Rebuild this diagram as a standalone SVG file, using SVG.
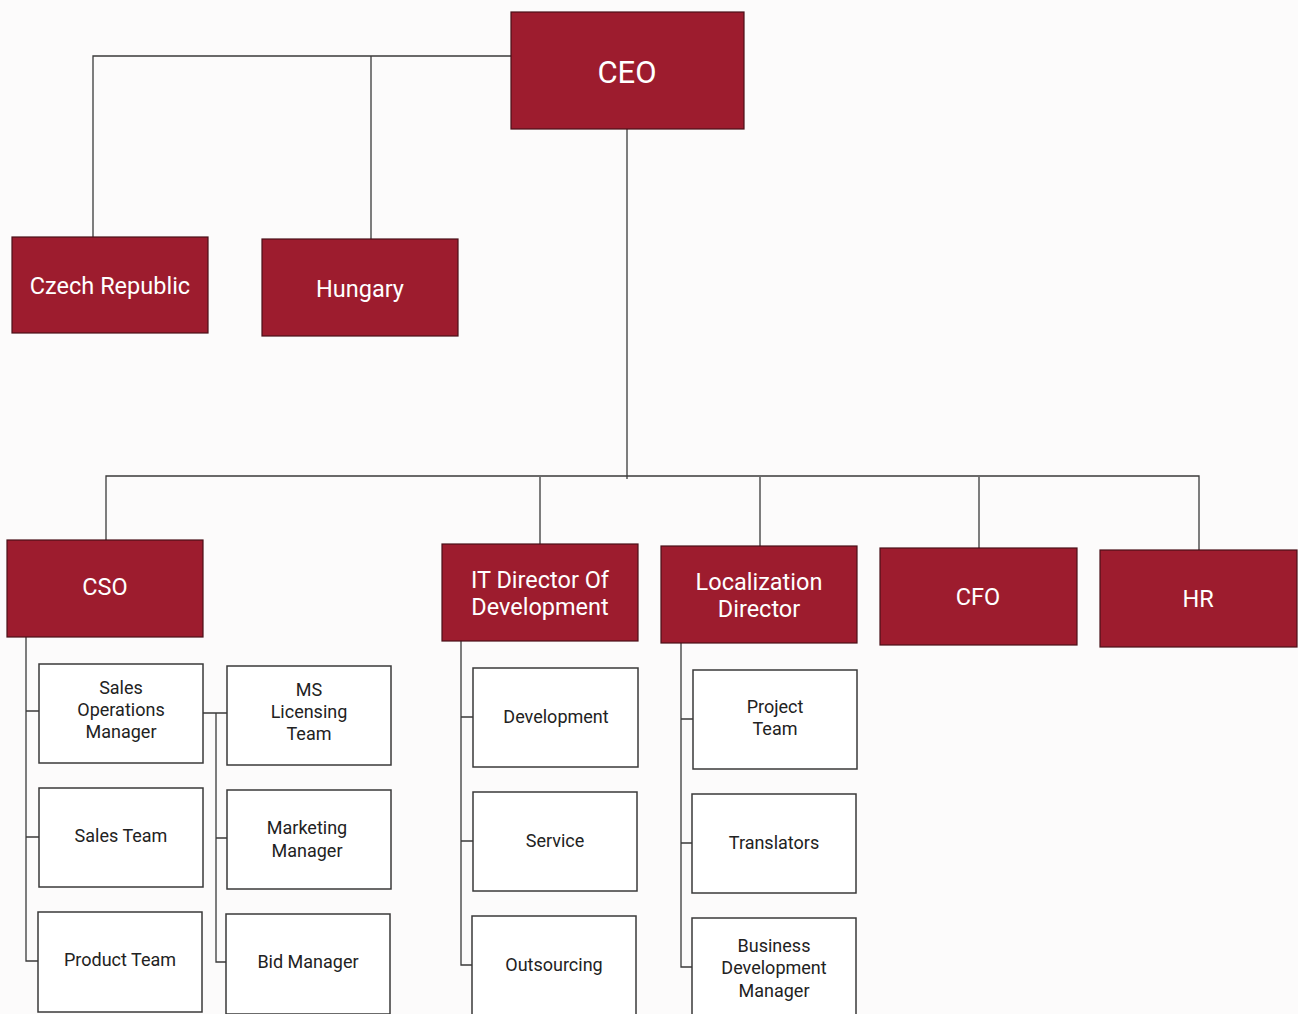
<svg xmlns="http://www.w3.org/2000/svg" width="1298" height="1014" viewBox="0 0 1298 1014">
<style>
.bg{fill:#fcfbfb}
.red rect{fill:#9d1c2e;stroke:#4a1018;stroke-width:1.2}
.red text{fill:#ffffff;font-family:Roboto,"Liberation Sans",sans-serif;font-size:23.5px;text-anchor:middle;dominant-baseline:central}
.wht rect{fill:#ffffff;stroke:#3a3a3a;stroke-width:1.5}
.wht text{fill:#222;font-family:Roboto,"Liberation Sans",sans-serif;font-size:18px;text-anchor:middle;dominant-baseline:central}
#connectors path{fill:none;stroke:#3a3a3a;stroke-width:1.3}
</style>
<rect class="bg" x="0" y="0" width="1298" height="1014"/>
<g id="connectors">
<path d="M511 56 H93 V237 M371 56 V239"/>
<path d="M627 129 V479 M106 540 V476 H1199 V550 M540 477 V544 M760 477 V546 M979 477 V548"/>
<path d="M26 637 V961 H39 M26 711 H39 M26 837 H39"/>
<path d="M203 713 H227 M216 713 V962 H227 M216 838 H227"/>
<path d="M461 641 V965 H473 M461 717 H473 M461 841 H473"/>
<path d="M681 643 V967 H693 M681 719 H693 M681 843 H693"/>
</g>
<g id="ceo" class="red"><rect x="511" y="12" width="233" height="117"/><text x="627" y="72" style="font-size:31px">CEO</text></g>
<g id="czech" class="red"><rect x="12" y="237" width="196" height="96"/><text x="110" y="286">Czech Republic</text></g>
<g id="hungary" class="red"><rect x="262" y="239" width="196" height="97"/><text x="360" y="289">Hungary</text></g>
<g id="cso" class="red"><rect x="7" y="540" width="196" height="97"/><text x="105" y="587">CSO</text></g>
<g id="itdir" class="red"><rect x="442" y="544" width="196" height="97"/><text x="540" y="580">IT Director Of</text><text x="540" y="607">Development</text></g>
<g id="locdir" class="red"><rect x="661" y="546" width="196" height="97"/><text x="759" y="582">Localization</text><text x="759" y="609">Director</text></g>
<g id="cfo" class="red"><rect x="880" y="548" width="197" height="97"/><text x="978" y="597">CFO</text></g>
<g id="hr" class="red"><rect x="1100" y="550" width="197" height="97"/><text x="1198" y="599">HR</text></g>
<g id="salesops" class="wht"><rect x="39" y="664" width="164" height="99"/><text x="121" y="687">Sales</text><text x="121" y="709">Operations</text><text x="121" y="731">Manager</text></g>
<g id="salesteam" class="wht"><rect x="39" y="788" width="164" height="99"/><text x="121" y="835">Sales Team</text></g>
<g id="productteam" class="wht"><rect x="38" y="912" width="164" height="100"/><text x="120" y="959">Product Team</text></g>
<g id="mslicensing" class="wht"><rect x="227" y="666" width="164" height="99"/><text x="309" y="689">MS</text><text x="309" y="711">Licensing</text><text x="309" y="733">Team</text></g>
<g id="marketing" class="wht"><rect x="227" y="790" width="164" height="99"/><text x="307" y="827">Marketing</text><text x="307" y="850">Manager</text></g>
<g id="bidmgr" class="wht"><rect x="226" y="914" width="164" height="100"/><text x="308" y="961">Bid Manager</text></g>
<g id="development" class="wht"><rect x="473" y="668" width="165" height="99"/><text x="556" y="716">Development</text></g>
<g id="service" class="wht"><rect x="473" y="792" width="164" height="99"/><text x="555" y="840">Service</text></g>
<g id="outsourcing" class="wht"><rect x="472" y="916" width="164" height="100"/><text x="554" y="964">Outsourcing</text></g>
<g id="projectteam" class="wht"><rect x="693" y="670" width="164" height="99"/><text x="775" y="706">Project</text><text x="775" y="728">Team</text></g>
<g id="translators" class="wht"><rect x="692" y="794" width="164" height="99"/><text x="774" y="842">Translators</text></g>
<g id="bizdev" class="wht"><rect x="692" y="918" width="164" height="98"/><text x="774" y="945">Business</text><text x="774" y="967">Development</text><text x="774" y="990">Manager</text></g>
</svg>
